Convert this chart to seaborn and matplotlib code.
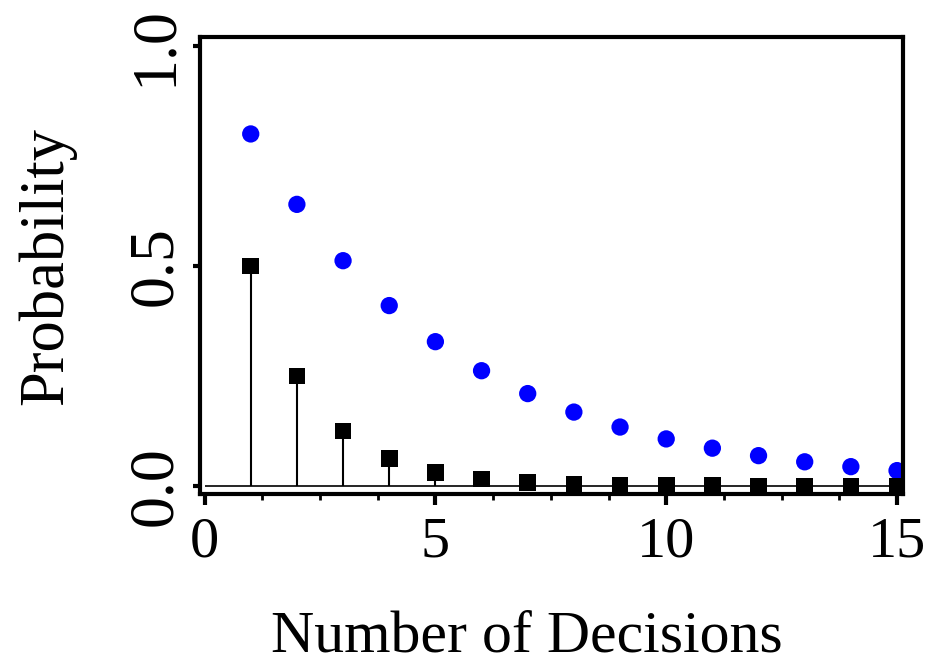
import matplotlib
matplotlib.use("Agg")
import matplotlib.pyplot as plt
import seaborn as sns
import pandas as pd
from matplotlib.ticker import MultipleLocator

decisions = [1, 2, 3, 4, 5, 6, 7, 8, 9, 10, 11, 12, 13, 14, 15]
prob_blue = [0.80, 0.64, 0.512, 0.41, 0.328, 0.262, 0.21, 0.168, 0.134,
             0.107, 0.086, 0.069, 0.055, 0.044, 0.035]
prob_black = [0.5, 0.25, 0.125, 0.0625, 0.031, 0.016, 0.008, 0.004, 0.002,
              0.001, 0.0005, 0.0002, 0.0001, 0.0001, 0.0]
x_ticks = [0, 5, 10, 15]
y_ticks = [0.0, 0.5, 1.0]
y_tick_labels = ["0.0", "0.5", "1.0"]

df = pd.DataFrame({"n": decisions, "blue": prob_blue, "black": prob_black})

sns.set_style("ticks")
plt.rcParams["font.family"] = ["Liberation Serif", "DejaVu Serif"]
plt.rcParams["text.color"] = "black"
plt.rcParams["axes.labelcolor"] = "black"

fig = plt.figure(figsize=(9.3, 6.63), dpi=100)
ax = fig.add_axes([0.215, 0.255, 0.756, 0.689])

ax.set_xlim(-0.1, 15.13)
ax.set_ylim(-0.018, 1.02)

ax.hlines(0, x_ticks[0], ax.get_xlim()[1], color="black", lw=1.2, zorder=1)
ax.vlines(df["n"], 0, df["black"], color="black", lw=1.5, zorder=2)
sns.scatterplot(data=df, x="n", y="blue", ax=ax, color="#0000ff", s=155,
                marker="o", edgecolor="none", zorder=3)
sns.scatterplot(data=df, x="n", y="black", ax=ax, color="black", s=145,
                marker="s", edgecolor="none", zorder=3, clip_on=False)

ax.set_xticks(x_ticks)
ax.xaxis.set_minor_locator(MultipleLocator(1.25))
ax.set_yticks(y_ticks)
ax.set_yticklabels(y_tick_labels, rotation=90, va="center")

for s in ax.spines.values():
    s.set_linewidth(3.0)
    s.set_color("black")
    s.set_zorder(5)

ax.tick_params(axis="x", which="major", length=8, width=3, labelsize=42, pad=8,
               colors="black", labelcolor="black")
ax.tick_params(axis="x", which="minor", length=4, width=2, colors="black")
ax.tick_params(axis="y", which="major", length=5, width=3, labelsize=46, pad=6,
               colors="black", labelcolor="black")

ax.set_xlabel("Number of Decisions", fontsize=43, color="black")
ax.xaxis.set_label_coords(0.465, -0.255)
ax.xaxis.label.set_va("top")
ax.set_ylabel("Probability", fontsize=45, labelpad=36, color="black")

fig.savefig("out.png", dpi=100)
